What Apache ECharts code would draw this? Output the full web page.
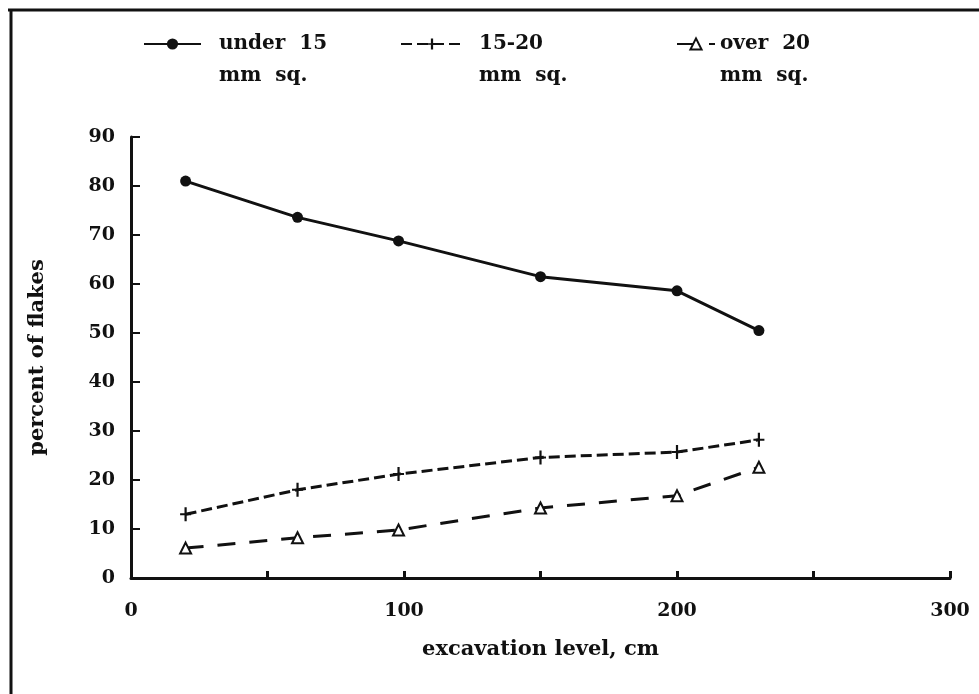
<!DOCTYPE html>
<html>
<head>
<meta charset="utf-8">
<script src="https://cdn.jsdelivr.net/npm/echarts@6/dist/echarts.min.js"></script>
<style>html,body{margin:0;padding:0;background:#fff;}#c{width:979px;height:694px;}</style>
</head>
<body>
<div id="c"></div>
<script>
const levels = [20, 61, 98, 150, 200, 230];
const under15 = [81, 73.6, 68.8, 61.5, 58.6, 50.5];
const from15to20 = [13, 18, 21.2, 24.6, 25.7, 28.2];
const over20 = [6.1, 8.2, 9.8, 14.3, 16.8, 22.6];
const seriesNames = ['under  15\nmm  sq.', '15-20\nmm  sq.', 'over  20\nmm  sq.'];
const xTickLabels = [0, 100, 200, 300];

const FONT = 'DejaVu Serif';
const INK = '#111';
const pair = (xs, ys) => xs.map((x, i) => [x, ys[i]]);

const chart = echarts.init(document.getElementById('c'), null, {renderer: 'canvas'});
const legendBase = (name, left, w, padLeft) => ({
  data: [name], left: left, top: 44 - 48, padding: 0, orient: 'horizontal',
  itemWidth: w, itemHeight: 14, selectedMode: false,
  formatter: n => '\n' + n,
  textStyle: {fontFamily: FONT, fontWeight: 'bold', fontSize: 20, color: INK, lineHeight: 32, padding: [0, 0, 0, padLeft]}
});
chart.setOption({
  backgroundColor: '#fff',
  animation: false,
  legend: [
    legendBase(seriesNames[0], 143, 57, 13),
    legendBase(seriesNames[1], 400, 62, 11),
    legendBase(seriesNames[2], 676, 38, 0)
  ],
  grid: {left: 131, right: 29, top: 137, bottom: 116},
  xAxis: {
    type: 'value', min: 0, max: 300, interval: 50,
    name: 'excavation level, cm', nameLocation: 'middle', nameGap: 61,
    nameTextStyle: {fontFamily: FONT, fontWeight: 'bold', fontSize: 21, color: INK},
    axisLine: {lineStyle: {color: INK, width: 3}},
    axisTick: {inside: true, length: 7, lineStyle: {color: INK, width: 3}},
    axisLabel: {margin: 24, fontFamily: FONT, fontWeight: 'bold', fontSize: 19, color: INK,
      formatter: v => xTickLabels.includes(v) ? String(v) : ''},
    splitLine: {show: false}
  },
  yAxis: {
    type: 'value', min: 0, max: 90, interval: 10,
    name: 'percent of flakes', nameLocation: 'middle', nameGap: 83,
    nameTextStyle: {fontFamily: FONT, fontWeight: 'bold', fontSize: 21, color: INK},
    axisLine: {show: true, lineStyle: {color: INK, width: 3}},
    axisTick: {show: true, inside: true, length: 9, lineStyle: {color: INK, width: 2}},
    axisLabel: {margin: 16, fontFamily: FONT, fontWeight: 'bold', fontSize: 19, color: INK},
    splitLine: {show: false}
  },
  series: [
    {
      name: seriesNames[0], type: 'line', data: pair(levels, under15),
      symbol: 'circle', symbolSize: 11,
      itemStyle: {color: INK},
      lineStyle: {color: INK, width: 3}
    },
    {
      name: seriesNames[1], type: 'line', data: pair(levels, from15to20),
      symbol: 'path://M4,0h2v14h-2z M0,6h10v2h-10z', symbolSize: [11, 14], symbolKeepAspect: false,
      itemStyle: {color: INK},
      lineStyle: {color: INK, width: 3, type: [11, 5]}
    },
    {
      name: seriesNames[2], type: 'line', data: pair(levels, over20),
      symbol: 'triangle', symbolSize: 11,
      itemStyle: {color: '#fff', borderColor: INK, borderWidth: 2},
      lineStyle: {color: INK, width: 3, type: [18, 14]}
    }
  ],
  graphic: [
    {type: 'line', shape: {x1: 8, y1: 10, x2: 979, y2: 10}, style: {stroke: INK, lineWidth: 3}},
    {type: 'line', shape: {x1: 11, y1: 9, x2: 11, y2: 694}, style: {stroke: INK, lineWidth: 3}}
  ]
});
</script>
</body>
</html>
